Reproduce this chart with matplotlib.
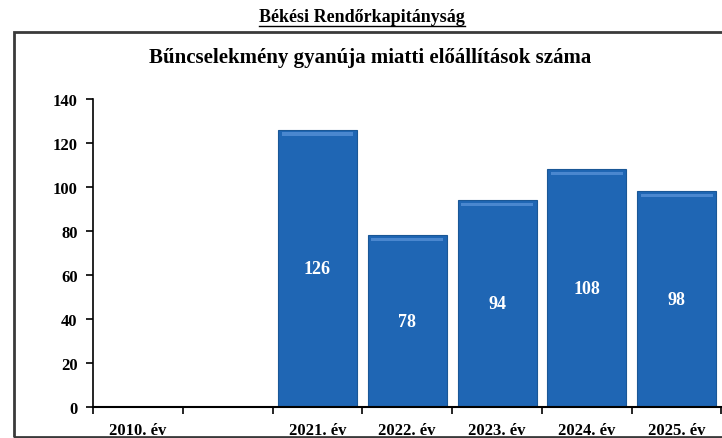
import matplotlib.pyplot as plt
import numpy as np
from matplotlib.patches import Rectangle
from matplotlib.lines import Line2D

plt.rcParams['font.family'] = ['Liberation Serif', 'DejaVu Serif']
plt.rcParams['font.weight'] = 'bold'

# data
categories = ['2010. év', '', '2021. év', '2022. év', '2023. év', '2024. év', '2025. év']
values = [np.nan, np.nan, 126, 78, 94, 108, 98]
yticks = [0, 20, 40, 60, 80, 100, 120, 140]

W, H = 722, 439
fig = plt.figure(figsize=(W / 100, H / 100), dpi=100)
fig.patch.set_facecolor('white')

# outer frame (runs off the right edge like the scan)
fig.add_artist(Rectangle((14 / W, 1.2 / H), 1.2, 1 - 34.2 / H, transform=fig.transFigure,
                         fill=False, edgecolor='#3a3a3a', linewidth=2.0))

# top title with underline
t = fig.text(362 / W, 1 - 17 / H, 'Békési Rendőrkapitányság', ha='center', va='center',
             fontsize=13, fontweight='bold')
fig.canvas.draw()
bb = t.get_window_extent(fig.canvas.get_renderer())
fig.add_artist(Line2D([bb.x0 / W, bb.x1 / W], [1 - 27 / H, 1 - 27 / H], transform=fig.transFigure,
                      color='black', linewidth=1))

fig.text(370 / W, 1 - 58 / H, 'Bűncselekmény gyanúja miatti előállítások száma', ha='center',
         va='center', fontsize=15, fontweight='bold')

ax = fig.add_axes([93 / W, 1 - 408 / H, (721.5 - 93) / W, (408 - 100) / H])
x = np.arange(len(categories))
vals = np.array(values, dtype=float)
ax.bar(x, vals, width=0.88, color='#1f66b4', edgecolor='#1a5796', linewidth=0.8, zorder=2)
# bevel highlight near the top of each bar
ax.bar(x, np.where(np.isnan(vals), np.nan, 1.5), bottom=vals - 2.7, width=0.8, color='#4a87cf',
       linewidth=0, zorder=3)

for xi, v in zip(x, vals):
    if not np.isnan(v):
        ax.text(xi, v / 2, f'{int(v)}', ha='center', va='center', color='white',
                fontsize=13, fontweight='bold', zorder=4)

ax.set_xlim(-0.5, len(categories) - 0.5)
ax.set_ylim(0, 140)
ax.set_yticks(yticks)
ax.set_xticks(x)
ax.set_xticklabels(categories)
ax.set_xticks(np.arange(len(categories) + 1) - 0.5, minor=True)
ax.tick_params(axis='x', which='major', length=0, pad=11, labelsize=12)
ax.tick_params(axis='x', which='minor', length=5, width=1.2, direction='out')
ax.tick_params(axis='y', length=5, width=1.2, labelsize=12, pad=6)
for s in ['top', 'right']:
    ax.spines[s].set_visible(False)
ax.spines['left'].set_linewidth(1.2)
ax.spines['bottom'].set_linewidth(1.5)
ax.patch.set_alpha(0)

fig.savefig('out.png', dpi=100)
